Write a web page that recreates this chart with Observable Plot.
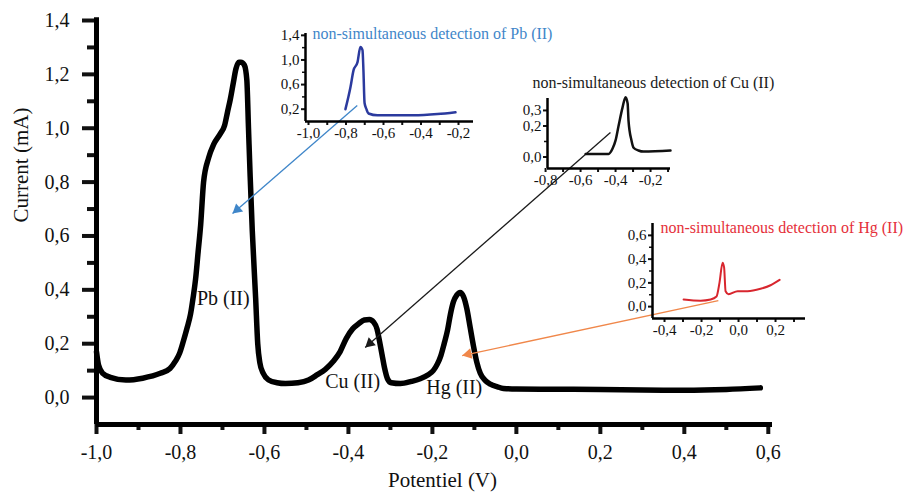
<!DOCTYPE html>
<html><head><meta charset="utf-8">
<script src="https://cdn.jsdelivr.net/npm/d3@7"></script>
<script src="https://cdn.jsdelivr.net/npm/@observablehq/plot@0.6"></script>
<style>
body{margin:0;background:#fff;}
#chart{position:relative;width:903px;height:493px;font-family:"Liberation Serif",serif;}
#chart svg{position:absolute;}
</style></head><body><div id="chart"></div>
<script>
// ---- main voltammogram (simultaneous detection) ----
const mainPotential = [-1.000,-0.995,-0.985,-0.967,-0.930,-0.890,-0.848,-0.825,-0.812,-0.802,-0.793,-0.784,-0.776,-0.770,-0.764,-0.758,-0.752,-0.745,-0.733,-0.721,-0.705,-0.695,-0.688,-0.681,-0.674,-0.668,-0.661,-0.656,-0.648,-0.642,-0.638,-0.634,-0.629,-0.621,-0.616,-0.611,-0.603,-0.590,-0.570,-0.550,-0.520,-0.495,-0.474,-0.455,-0.436,-0.420,-0.405,-0.390,-0.375,-0.362,-0.350,-0.340,-0.332,-0.326,-0.320,-0.314,-0.307,-0.298,-0.276,-0.250,-0.229,-0.210,-0.198,-0.188,-0.180,-0.172,-0.164,-0.157,-0.150,-0.142,-0.134,-0.126,-0.118,-0.110,-0.102,-0.094,-0.086,-0.075,-0.062,-0.045,-0.031,0.000,0.100,0.200,0.300,0.400,0.500,0.581];
const mainCurrent = [0.17,0.12,0.09,0.075,0.065,0.072,0.09,0.108,0.135,0.165,0.21,0.26,0.31,0.37,0.44,0.54,0.64,0.80,0.89,0.94,0.98,1.01,1.06,1.11,1.17,1.22,1.245,1.245,1.235,1.18,1.00,0.82,0.62,0.37,0.20,0.13,0.09,0.065,0.055,0.052,0.055,0.065,0.085,0.105,0.135,0.17,0.22,0.255,0.275,0.288,0.29,0.28,0.255,0.21,0.16,0.11,0.07,0.055,0.052,0.06,0.07,0.085,0.10,0.125,0.155,0.20,0.25,0.31,0.355,0.38,0.39,0.375,0.33,0.26,0.19,0.13,0.09,0.065,0.05,0.04,0.034,0.032,0.031,0.030,0.028,0.027,0.030,0.036];

const xMajor = [-1.0,-0.8,-0.6,-0.4,-0.2,0.0,0.2,0.4,0.6];
const xMinor = [-0.9,-0.7,-0.5,-0.3,-0.1,0.1,0.3,0.5];
const yMajor = [0.0,0.2,0.4,0.6,0.8,1.0,1.2,1.4];
const yMinor = [0.1,0.3,0.5,0.7,0.9,1.1,1.3];

const peakNames = ["Pb (II)","Cu (II)","Hg (II)"];
const peakX = [-0.698,-0.390,-0.148];
const peakY = [0.368,0.059,0.037];

// arrows from insets to peaks (main-chart data coordinates)
const arrowFromX = [-0.379, 0.224, 0.481];
const arrowFromY = [1.084, 0.984, 0.360];
const arrowToX = [-0.676, -0.360, -0.129];
const arrowToY = [0.683, 0.186, 0.156];
const arrowColors = ["#3f86c9","#1a1a1a","#f0874a"];

// ---- inset: Pb (II) ----
const pbPotential = [-0.803,-0.776,-0.760,-0.739,-0.723,-0.712,-0.707,-0.701,-0.691,-0.680,-0.632,-0.540,-0.440,-0.312,-0.216];
const pbCurrent = [0.20,0.56,0.83,0.96,1.21,1.16,0.83,0.30,0.20,0.13,0.10,0.10,0.10,0.12,0.15];
const pbXTicks = [-1.0,-0.8,-0.6,-0.4,-0.2];
const pbXMinor = [-0.9,-0.7,-0.5,-0.3];
const pbYTicks = [0.2,0.6,1.0,1.4];
const pbYMinor = [0.4,0.8,1.2];

// ---- inset: Cu (II) ----
const cuPotential = [-0.571,-0.440,-0.417,-0.400,-0.383,-0.360,-0.343,-0.331,-0.326,-0.309,-0.297,-0.269,-0.240,-0.086];
const cuCurrent = [0.02,0.02,0.055,0.107,0.20,0.32,0.385,0.345,0.235,0.107,0.06,0.042,0.035,0.042];
const cuXTicks = [-0.8,-0.6,-0.4,-0.2];
const cuXMinor = [-0.7,-0.5,-0.3,-0.1];
const cuYTicks = [0.0,0.2,0.3];
const cuYMinor = [0.1];

// ---- inset: Hg (II) ----
const hgPotential = [-0.297,-0.205,-0.151,-0.119,-0.103,-0.086,-0.078,-0.070,-0.054,-0.005,0.049,0.119,0.173,0.222];
const hgCurrent = [0.06,0.05,0.06,0.085,0.20,0.37,0.33,0.13,0.105,0.13,0.13,0.15,0.18,0.225];
const hgXTicks = [-0.4,-0.2,0.0,0.2];
const hgXMinor = [-0.3,-0.1,0.1,0.3];
const hgYTicks = [0.0,0.2,0.4,0.6];
const hgYMinor = [0.1,0.3,0.5];

const fmt = d => d.toFixed(1).replace(".", ",");
const font = "'Liberation Serif', 'Times New Roman', serif";
const chart = document.getElementById("chart");

// main scales (same domains/ranges as the Plot below) for arrowhead orientation
const W = 903, H = 493, mL = 96, mR = 131, mT = 20, mB = 69;
const xDom = [-1.0, 0.61], yDom = [-0.1, 1.4];
const sx = d3.scaleLinear(xDom, [mL, W - mR]);
const sy = d3.scaleLinear(yDom, [H - mB, mT]);

const mainRows = mainPotential.map((x, i) => ({x, y: mainCurrent[i]}));
const peakRows = peakNames.map((t, i) => ({t, x: peakX[i], y: peakY[i]}));
const arrowRows = arrowColors.map((c, i) => ({x1: arrowFromX[i], y1: arrowFromY[i], x2: arrowToX[i], y2: arrowToY[i], c}));
const headR = 4;
const back = 2 * Math.sqrt(Math.PI * headR * headR / (3 * Math.sqrt(3)));
const headRows = arrowRows.map(a => {
  const px1 = sx(a.x1), py1 = sy(a.y1), px2 = sx(a.x2), py2 = sy(a.y2);
  const len = Math.hypot(px2 - px1, py2 - py1);
  const ux = (px2 - px1) / len, uy = (py2 - py1) / len;
  return {x: sx.invert(px2 - ux * back), y: sy.invert(py2 - uy * back),
          rot: Math.atan2(ux, -uy) * 180 / Math.PI, c: a.c};
});

const main = Plot.plot({
  width: W, height: H,
  marginLeft: mL, marginRight: mR, marginTop: mT, marginBottom: mB,
  x: {domain: xDom, label: null},
  y: {domain: yDom, label: null},
  style: {fontFamily: font, fontSize: "20px", color: "#111", background: "white", overflow: "visible"},
  marks: [
    Plot.axisY({ticks: yMajor, tickSize: 14, tickPadding: 13, strokeWidth: 4, tickFormat: fmt, fontSize: 20, label: null}),
    Plot.axisY({ticks: yMinor, tickSize: 9, strokeWidth: 4, tickFormat: () => "", label: null}),
    Plot.axisX({ticks: xMajor, tickSize: 10, tickPadding: 10, strokeWidth: 4, tickFormat: fmt, fontSize: 20, label: null}),
    Plot.axisX({ticks: xMinor, tickSize: 6, strokeWidth: 4, tickFormat: () => "", label: null}),
    Plot.ruleX([xDom[0]], {y1: yDom[0], y2: 1.41, strokeWidth: 5, stroke: "#000"}),
    Plot.ruleY([yDom[0]], {x1: xDom[0], x2: xDom[1], strokeWidth: 5, stroke: "#000"}),
    Plot.line(mainRows, {x: "x", y: "y", stroke: "#000", strokeWidth: 5.5, curve: "monotone-x", strokeLinejoin: "round"}),
    Plot.text(peakRows, {x: "x", y: "y", text: "t", fontSize: 20, fill: "#111"}),
    Plot.link(arrowRows, {x1: "x1", y1: "y1", x2: "x2", y2: "y2", stroke: "c", strokeWidth: 1.3}),
    Plot.dot(headRows, {x: "x", y: "y", symbol: "triangle", r: headR, rotate: "rot", fill: "c", stroke: "none"}),
    Plot.text(["Current (mA)"], {text: d => d, frameAnchor: "left", dx: -75, rotate: -90, lineAnchor: "middle", fontSize: 21, fill: "#111"}),
    Plot.text(["Potentiel (V)"], {text: d => d, frameAnchor: "bottom", dx: 8, dy: 56, lineAnchor: "middle", fontSize: 21, fill: "#111"})
  ]
});
main.style.left = "0px"; main.style.top = "0px";
chart.appendChild(main);

function inset(o) {
  const rows = o.xs.map((x, i) => ({x, y: o.ys[i]}));
  const p = Plot.plot({
    width: o.w, height: o.h,
    marginLeft: o.mL, marginRight: o.mR, marginTop: o.mT, marginBottom: o.mB,
    x: {domain: o.xDom, label: null},
    y: {domain: o.yDom, label: null},
    style: {fontFamily: font, fontSize: "15px", color: "#111", background: "transparent", overflow: "visible"},
    marks: [
      Plot.axisY({ticks: o.yTicks, tickSize: 4, tickPadding: 2, strokeWidth: 2, tickFormat: fmt, fontSize: 15, label: null}),
      Plot.axisY({ticks: o.yMinor, tickSize: 3, strokeWidth: 1.5, tickFormat: () => "", label: null}),
      Plot.axisX({ticks: o.xTicks, tickSize: 4, tickPadding: 2, strokeWidth: 2, tickFormat: fmt, fontSize: 15, label: null}),
      Plot.axisX({ticks: o.xMinor, tickSize: 4, strokeWidth: 2, tickFormat: () => "", label: null}),
      Plot.ruleX([o.xDom[0]], {strokeWidth: 2.5, stroke: "#000"}),
      Plot.ruleY([o.yDom[0]], {strokeWidth: 2.5, stroke: "#000"}),
      Plot.line(rows, {x: "x", y: "y", stroke: o.color, strokeWidth: o.sw, curve: "monotone-x", strokeLinejoin: "round"}),
      Plot.text([o.title], {text: d => d, frameAnchor: "top-left", dx: o.tdx, dy: o.tdy, textAnchor: "start", lineAnchor: "middle", fontSize: 16, fill: o.titleColor})
    ]
  });
  p.style.left = o.left + "px"; p.style.top = o.top + "px";
  chart.appendChild(p);
}

inset({left: 250, top: 10, w: 320, h: 150, mL: 55, mR: 97, mT: 23, mB: 39,
  xDom: [-1.016, -0.12], yDom: [0, 1.43], xs: pbPotential, ys: pbCurrent,
  xTicks: pbXTicks, xMinor: pbXMinor, yTicks: pbYTicks, yMinor: pbYMinor,
  color: "#2b3a9e", sw: 2.5, title: "non-simultaneous detection of Pb (II)", titleColor: "#3f86c9", tdx: 7, tdy: 0});

inset({left: 490, top: 60, w: 310, h: 140, mL: 57, mR: 130, mT: 38, mB: 32,
  xDom: [-0.789, -0.086], yDom: [-0.074, 0.377], xs: cuPotential, ys: cuCurrent,
  xTicks: cuXTicks, xMinor: cuXMinor, yTicks: cuYTicks, yMinor: cuYMinor,
  color: "#111", sw: 2.5, title: "non-simultaneous detection of Cu (II)", titleColor: "#1a1a1a", tdx: -15, tdy: -16});

inset({left: 600, top: 195, w: 303, h: 150, mL: 52, mR: 98, mT: 28, mB: 27,
  xDom: [-0.465, 0.362], yDom: [-0.10, 0.70], xs: hgPotential, ys: hgCurrent,
  xTicks: hgXTicks, xMinor: hgXMinor, yTicks: hgYTicks, yMinor: hgYMinor,
  color: "#d8262e", sw: 2, title: "non-simultaneous detection of Hg (II)", titleColor: "#e5303a", tdx: 8, tdy: 4});
</script></body></html>
